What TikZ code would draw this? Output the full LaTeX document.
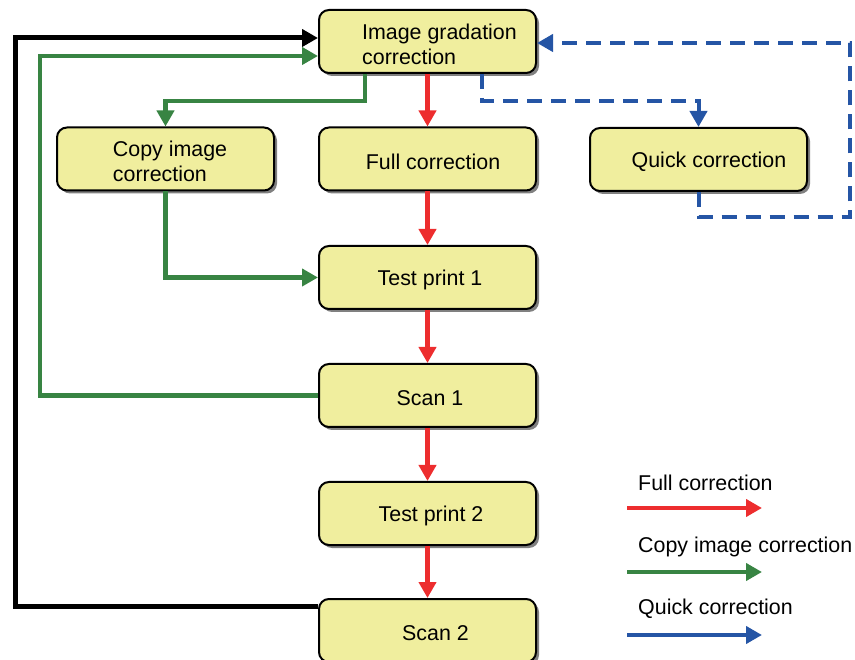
\documentclass[tikz,border=0pt]{standalone}
\usepackage{fontspec}
\setmainfont{Liberation Sans}
\usetikzlibrary{arrows.meta,shadows}
\definecolor{boxfill}{RGB}{240,238,158}
\definecolor{fullred}{RGB}{237,45,46}
\definecolor{copygreen}{RGB}{56,132,67}
\definecolor{quickblue}{RGB}{37,85,165}
\newcommand\bxline[2]{\raisebox{-2.5pt}[\height][\depth]{\hspace*{#1}#2}}
\begin{document}
\begin{tikzpicture}[x=1pt,y=-1pt,
  stepbox/.style={draw=black, line width=2pt, rounded corners=10pt, fill=boxfill,
    minimum width=217pt, minimum height=63pt, inner sep=0pt,
    font=\fontsize{21.4}{25}\selectfont, align=left,
    general shadow={fill=black!50, shadow xshift=3pt, shadow yshift=-3pt}},
  tip/.style={-{Triangle[length=16pt,width=17pt]}},
  fullline/.style={tip, draw=fullred, line width=4.5pt},
  copyline/.style={tip, draw=copygreen, line width=4.5pt},
  quickline/.style={tip, draw=quickblue, line width=4pt},
  quickdash/.style={quickline, dash pattern=on 15pt off 9pt},
  blackline/.style={tip, draw=black, line width=5pt},
  legtext/.style={anchor=west, inner sep=0pt, font=\fontsize{21.4}{25}\selectfont}
]
\useasboundingbox (0,0) rectangle (855,660);

% boxes
\node[stepbox] (img)   at (427.5,41.5) {\bxline{24pt}{Image gradation}\\\bxline{24pt}{correction}};
\node[stepbox] (copy)  at (165.5,159)  {\bxline{9pt}{Copy image}\\\bxline{9pt}{correction}};
\node[stepbox] (full)  at (427.5,159)  {\bxline{11pt}{Full correction}};
\node[stepbox] (quick) at (698.5,159.5){\bxline{21pt}{Quick correction}};
\node[stepbox] (test1) at (427.5,277.5){\bxline{5pt}{Test print 1}};
\node[stepbox] (scan1) at (427.5,395.5){\bxline{5pt}{Scan 1}};
\node[stepbox] (test2) at (427.5,513.5){\bxline{7pt}{Test print 2}};
\node[stepbox] (scan2) at (427.5,630.5){\bxline{16pt}{Scan 2}};

% helper coordinates
\coordinate (bstart) at ([yshift=-8pt]scan2.north west);
\coordinate (yblack) at (0,38);
\coordinate (ygreen) at (0,56);
\coordinate (yblue)  at (0,43);
\coordinate (ysplit) at (0,101);
\coordinate (xblack) at (15,0);
\coordinate (xgreen) at (40,0);
\coordinate (xcopy)  at (365,0);
\coordinate (xquick) at (482,0);
\coordinate (xright) at (850,0);
\coordinate (yqloop) at (0,217);

% red (full correction)
\draw[fullline] (img.south) -- (full.north);
\draw[fullline] (full.south) -- (test1.north);
\draw[fullline] (test1.south) -- (scan1.north);
\draw[fullline] (scan1.south) -- (test2.north);
\draw[fullline] (test2.south) -- (scan2.north);

% black loop
\draw[blackline] (bstart) -- (xblack |- bstart) -- (xblack |- yblack) -- (img.west |- yblack);

% green
\draw[copyline] (scan1.west) -- (xgreen |- scan1.west) -- (xgreen |- ygreen) -- (img.west |- ygreen);
\draw[copyline] (xcopy |- img.south) -- (xcopy |- ysplit) -- (copy.north |- ysplit) -- (copy.north);
\draw[copyline] (copy.south) |- (test1.west);

% blue dashed
\draw[quickdash] (xquick |- img.south) -- (xquick |- ysplit) -- (quick.north |- ysplit) -- (quick.north);
\draw[quickdash] (quick.south) -- (quick.south |- yqloop) -- (xright |- yqloop) -- (xright |- yblue) -- (img.east |- yblue);

% legend
\node[legtext] (lt1) at (638,483) {Full correction};
\node[legtext] (lt2) at (638,547) {Copy image correction};
\node[legtext] (lt3) at (638,609) {Quick correction};
\coordinate (la1) at (627,508);
\coordinate (lb1) at (762,508);
\coordinate (la2) at (627,572);
\coordinate (lb2) at (762,572);
\coordinate (la3) at (627,635);
\coordinate (lb3) at (762,635);
\draw[fullline] (la1) -- (lb1);
\draw[copyline] (la2) -- (lb2);
\draw[quickline] (la3) -- (lb3);
\end{tikzpicture}
\end{document}
